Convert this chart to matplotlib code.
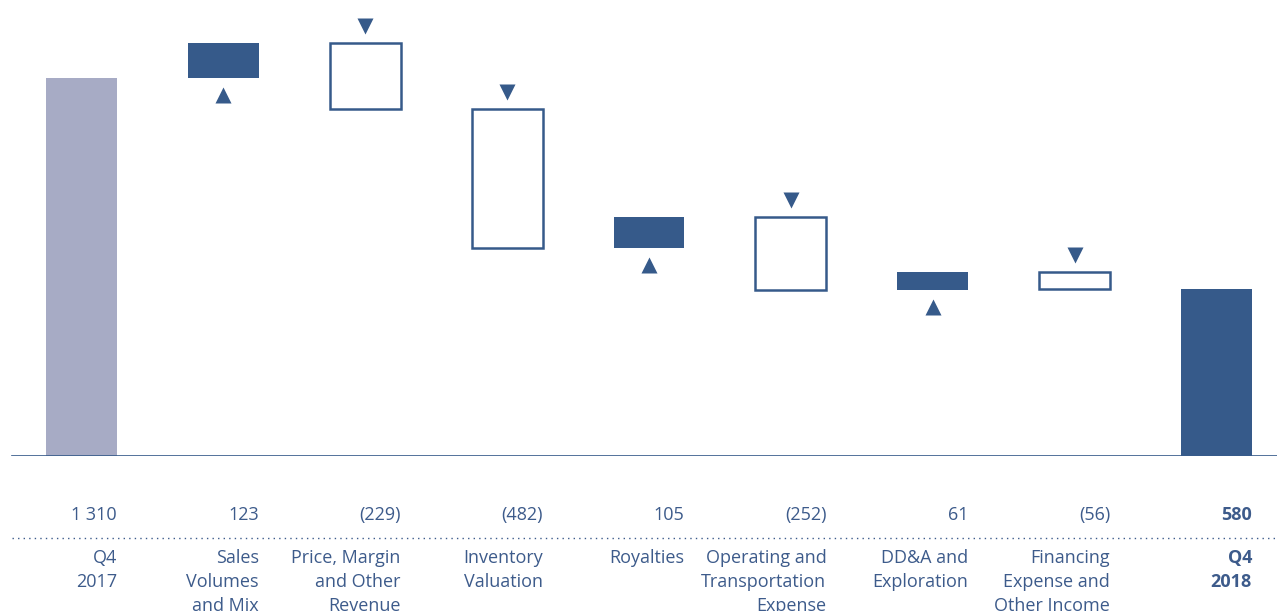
import numpy as np
import matplotlib.pyplot as plt
from matplotlib import transforms

plt.rcParams['font.family'] = ['Open Sans', 'DejaVu Sans']

# Donnees du pont Q4 2017 -> Q4 2018
labels = ["Q4\n2017", "Sales\nVolumes\nand Mix", "Price, Margin\nand Other\nRevenue",
          "Inventory\nValuation", "Royalties", "Operating and\nTransportation\nExpense",
          "DD&A and\nExploration", "Financing\nExpense and\nOther Income", "Q4\n2018"]
start = 1310
deltas = [123, -229, -482, 105, -252, 61, -56]
end = 580
value_labels = ["1 310", "123", "(229)", "(482)", "105", "(252)", "61", "(56)", "580"]

blue = "#365a8a"
grey = "#a7abc5"
txt = "#3d5b8b"

fig = plt.figure(figsize=(12.77, 6.11), dpi=100)
ax = fig.add_axes([0, 1 - 456 / 611, 1, 456 / 611])

w = 0.5
ax.bar(0, start, width=w, color=grey)
ax.bar(8, end, width=w, color=blue)

# offset des triangles (en unites de donnees)
ymax = 456 / 378 * start
off = 17 / 456 * ymax

level = start
for i, d in enumerate(deltas, start=1):
    lo = min(level, level + d)
    if d > 0:
        ax.bar(i, d, bottom=level, width=w, color=blue)
        ax.plot(i, lo - off, marker='^', color=blue, ms=11, mec='none')
    else:
        ax.bar(i, -d, bottom=level + d, width=w, facecolor='white',
               edgecolor=blue, linewidth=1.8)
        ax.plot(i, level + off, marker='v', color=blue, ms=11, mec='none')
    level += d

xmin = -81.5 / 141.875
xmax = (1277 - 81.5) / 141.875
ax.set_xlim(xmin, xmax)
ax.set_ylim(0, ymax)
ax.axhline(0, xmin=12 / 1277, xmax=1, color=blue, lw=1.2)
ax.axis('off')

tr = transforms.blended_transform_factory(ax.transData, fig.transFigure)
for i in range(9):
    bold = 'bold' if i == 8 else 'normal'
    ax.text(i + w / 2, 1 - 515 / 611, value_labels[i], transform=tr, ha='right',
            va='center', fontsize=13, color=txt, fontweight=bold)
    ax.text(i + w / 2, 1 - 549 / 611, labels[i], transform=tr, ha='right',
            va='top', fontsize=13, color=txt, fontweight=bold, linespacing=1.42)

fig.add_artist(plt.Line2D([12 / 1277, 1], [1 - 538 / 611] * 2, color=txt,
                          lw=1, ls=(0, (1, 3))))

fig.savefig("out.png", dpi=100)
